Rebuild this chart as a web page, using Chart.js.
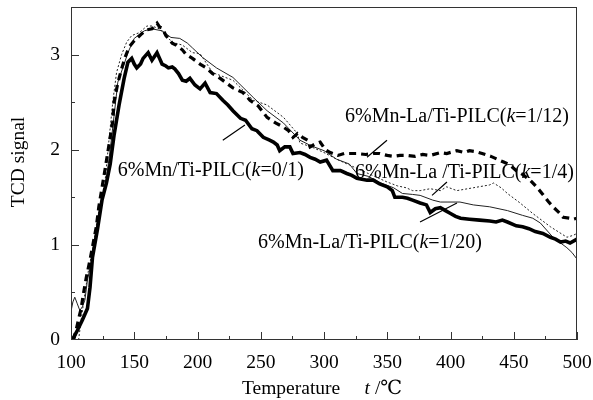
<!DOCTYPE html>
<html><head><meta charset="utf-8">
<script src="https://cdn.jsdelivr.net/npm/chart.js@4/dist/chart.umd.min.js"></script>
<style>html,body{margin:0;padding:0;background:#fff}</style>
</head><body>
<canvas id="c" width="593" height="400"></canvas>
<script>
// ---- data ----
const xTickValues = [100,150,200,250,300,350,400,450,500];
const yTickValues = [0,1,2,3];

// 6%Mn/Ti-PILC(k=0/1) : thick solid
const tempK01 = [101,105,109,111,113,115,117,121,124.5,128,131,134,138,142,145,148,150,152,155,157,161,164,166,168,170,172,175,177,180,182,185,188,191,194,198,202,206,210,215,220,224,228,234,238,243,247,252,257,260,263,265,269,273,275.5,281,285,289,293,297,302,307,313,318,322,326,330,334,339,344,350,354,356,362,366,370,376,381,384,388,392,396,400,404,408,415,423,431,436,441,445,452,457,462,467,473,479,483,487,491,494.5,500];
const sigK01  = [0,0.1,0.21,0.27,0.33,0.55,0.87,1.17,1.47,1.65,1.85,2.15,2.47,2.75,2.92,2.96,2.9,2.86,2.9,2.96,3.02,2.94,2.98,3.02,2.96,2.9,2.88,2.86,2.87,2.85,2.8,2.73,2.72,2.75,2.68,2.64,2.7,2.6,2.59,2.52,2.47,2.41,2.33,2.31,2.22,2.2,2.13,2.1,2.08,2.05,1.99,2.03,2.03,1.96,1.97,1.95,1.92,1.9,1.87,1.89,1.78,1.78,1.75,1.73,1.7,1.69,1.68,1.68,1.64,1.61,1.57,1.5,1.5,1.49,1.47,1.44,1.42,1.34,1.38,1.39,1.36,1.33,1.3,1.28,1.27,1.26,1.25,1.24,1.26,1.24,1.2,1.19,1.17,1.14,1.12,1.08,1.06,1.03,1.04,1.02,1.06];

// 6%Mn-La/Ti-PILC(k=1/12) : thick dashed
const tempK112 = [102,104,106,108,110,112,115,118,120,122,124.5,127,130,133,134,137,140,143,146,149,152,156,160,164,168,170,172,175,177,180,183,188,191,196,202,207,212,218,228,236,241.5,248,255,262,267.6,272,275.5,279,283,287,289,293,297,301,305,311,316,321,326,333,339,344,350,355,360,366,372,378,384,392,397,405,411,415,420,425,432,437,442,447,452,457,463,468,473,477,481,485,489,494,497,500];
const sigK112  = [0,0.1,0.22,0.33,0.5,0.65,0.84,1.05,1.19,1.4,1.6,1.8,2.05,2.3,2.5,2.7,2.85,2.98,3.08,3.13,3.17,3.22,3.26,3.27,3.33,3.29,3.28,3.2,3.17,3.12,3.1,3.05,3.0,2.96,2.9,2.86,2.8,2.75,2.65,2.6,2.52,2.46,2.34,2.28,2.24,2.2,2.13,2.17,2.13,2.1,2.03,2.06,2.08,2.0,1.97,1.94,1.96,1.96,1.96,1.95,1.96,1.96,1.94,1.93,1.94,1.94,1.93,1.95,1.94,1.97,1.96,1.99,1.97,1.99,1.98,1.96,1.93,1.9,1.87,1.84,1.78,1.74,1.68,1.61,1.53,1.46,1.4,1.35,1.29,1.28,1.27,1.28];

// 6%Mn-La/Ti-PILC(k=1/4) : thin dotted
const tempK14 = [106,108,111,114,117,121,124,127,130,133,136,140,144,148,154,160,164,170,175,180,188,196,202,212,228,244,255,268,279,281,290,300,310,320,330,340,350,358,365,370,376,384,392,397,405,418,431,434,440,445,455,465,479,492,497,500];
const sigK14  = [0,0.21,0.49,0.75,0.94,1.29,1.47,1.68,2.1,2.5,2.81,3.0,3.13,3.2,3.23,3.3,3.3,3.27,3.2,3.13,3.1,3.02,3.01,2.81,2.73,2.52,2.47,2.34,2.17,2.07,2.03,1.97,1.9,1.84,1.78,1.72,1.66,1.62,1.6,1.57,1.57,1.59,1.57,1.61,1.57,1.6,1.63,1.65,1.6,1.54,1.44,1.33,1.19,1.08,1.1,1.12];

// 6%Mn-La/Ti-PILC(k=1/20) : thin solid
const tempK120 = [100,101.5,103,105,107,109,111,113,117,121,125,128,131,134,137,142,145,150,158,164,172,179,186,192,196,204,215,228,244,255,268,281,290,300,310,320,326,335,345,355,362,370,376,386,392,398,407.5,418,431,445,457,465,471,481,487,492,496,500];
const sigK120  = [0.3,0.4,0.45,0.38,0.31,0.35,0.42,0.63,0.87,1.26,1.47,1.7,2.0,2.35,2.71,2.9,3.02,3.17,3.25,3.27,3.25,3.18,3.17,3.12,3.07,2.97,2.86,2.76,2.55,2.41,2.28,2.1,2.04,1.99,1.9,1.85,1.75,1.72,1.65,1.6,1.54,1.53,1.52,1.47,1.45,1.45,1.45,1.42,1.40,1.36,1.31,1.28,1.23,1.08,1.02,0.97,0.92,0.85];

const seriesNames = ['6%Mn/Ti-PILC(k=0/1)','6%Mn-La/Ti-PILC(k=1/12)','6%Mn-La /Ti-PILC(k=1/4)','6%Mn-La/Ti-PILC(k=1/20)'];

const pts = (xs, ys) => xs.map((t,i)=>({x:t, y:ys[i]}));
const FONT = '"Liberation Serif","DejaVu Serif","Times New Roman",serif';

function rich(ctx, segs, x, y, size){
  let cx = x;
  for (const [txt, it] of segs){
    ctx.font = (it?'italic ':'') + size + 'px ' + FONT;
    ctx.fillText(txt, cx, y);
    cx += ctx.measureText(txt).width;
  }
}
function labelSegs(name){
  const i = name.indexOf('k=');
  return [[name.slice(0,i), false], ['k', true], [name.slice(i+1), false]];
}

const deco = {
  id:'deco',
  afterDraw(chart){
    const {ctx, chartArea:a, scales:{x, y}} = chart;
    ctx.save();
    ctx.strokeStyle = '#333'; ctx.lineWidth = 1;
    ctx.strokeRect(Math.round(a.left)+0.5, Math.round(a.top)+0.5, Math.round(a.right-a.left)-1, Math.round(a.bottom-a.top)-1);
    ctx.beginPath();
    for (let t=100; t<=500; t+=25){
      const px = Math.round(x.getPixelForValue(t))+0.5;
      const len = (t%50===0)?8:4;
      ctx.moveTo(px, a.bottom); ctx.lineTo(px, a.bottom-len);
    }
    for (let v=0.5; v<3.5; v+=0.5){
      const py = Math.round(y.getPixelForValue(v))+0.5;
      const len = (Math.abs(v-Math.round(v))<1e-6)?8:4;
      ctx.moveTo(a.left, py); ctx.lineTo(a.left+len, py);
    }
    ctx.stroke();

    // leader lines (data coordinates)
    const leaders = [[220,2.10,237.5,2.26],[334,1.92,349.8,2.10],[385.4,1.52,397.2,1.66],[375.9,1.24,405.1,1.44]];
    ctx.strokeStyle = '#000'; ctx.lineWidth = 1.2;
    ctx.beginPath();
    for (const [t1,v1,t2,v2] of leaders){
      ctx.moveTo(x.getPixelForValue(t1), y.getPixelForValue(v1));
      ctx.lineTo(x.getPixelForValue(t2), y.getPixelForValue(v2));
    }
    ctx.stroke();

    // series labels
    ctx.fillStyle = '#000'; ctx.textBaseline = 'alphabetic'; ctx.textAlign = 'left';
    const labelPos = [[137,1.72],[316.6,2.29],[324.5,1.70],[247.8,0.965]];
    seriesNames.forEach((n,i)=>{
      rich(ctx, labelSegs(n), x.getPixelForValue(labelPos[i][0]), y.getPixelForValue(labelPos[i][1]), 20);
    });

    // axis titles
    rich(ctx, [['Temperature',false],['     ',false],['t',true],[' /\u2103',false]], 242, 394, 19.5);
    ctx.save();
    ctx.translate(24, 162);
    ctx.rotate(-Math.PI/2);
    ctx.textAlign = 'center';
    ctx.font = '19.5px ' + FONT;
    ctx.fillText('TCD signal', 0, 0);
    ctx.restore();
    ctx.restore();
  }
};

new Chart(document.getElementById('c'), {
  type:'line',
  data:{ datasets:[
    {label:seriesNames[0], data:pts(tempK01,sigK01), borderColor:'#000', borderWidth:3.6, pointRadius:0, tension:0},
    {label:seriesNames[1], data:pts(tempK112,sigK112), borderColor:'#000', borderWidth:3.2, borderDash:[7,5], pointRadius:0, tension:0},
    {label:seriesNames[2], data:pts(tempK14,sigK14), borderColor:'#222', borderWidth:1, borderDash:[2,2], pointRadius:0, tension:0},
    {label:seriesNames[3], data:pts(tempK120,sigK120), borderColor:'#222', borderWidth:1, pointRadius:0, tension:0}
  ]},
  options:{
    responsive:false, animation:false,
    layout:{padding:{top:7,right:16,left:0,bottom:0}},
    plugins:{legend:{display:false}, tooltip:{enabled:false}},
    scales:{
      x:{type:'linear', min:100, max:500,
        grid:{display:false, drawTicks:false}, border:{display:false},
        afterBuildTicks:(s)=>{ s.ticks = xTickValues.map(v=>({value:v})); },
        afterFit:(s)=>{ s.height = 60; s.paddingLeft = 0; s.paddingRight = 0; s.paddingTop = 0; s.paddingBottom = 0; },
        ticks:{padding:11, color:'#000', font:{family:FONT, size:19.5}, maxRotation:0}
      },
      y:{type:'linear', min:0, max:3.5,
        grid:{display:false, drawTicks:false}, border:{display:false},
        afterBuildTicks:(s)=>{ s.ticks = yTickValues.map(v=>({value:v})); },
        afterFit:(s)=>{ s.width = 71; s.paddingLeft = 0; s.paddingRight = 0; s.paddingTop = 0; s.paddingBottom = 0; },
        ticks:{padding:11, color:'#000', font:{family:FONT, size:19.5}}
      }
    }
  },
  plugins:[deco]
});
</script>
</body></html>
